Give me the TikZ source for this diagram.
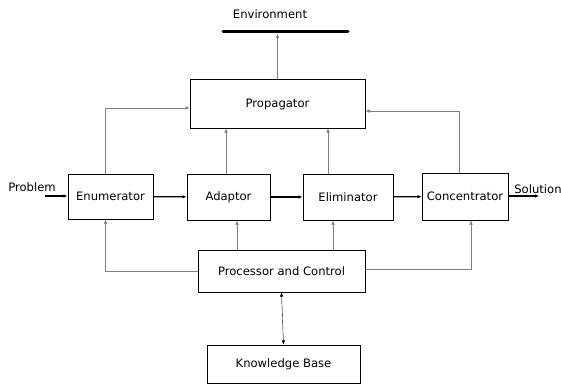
\documentclass[tikz,border=0pt]{standalone}
\usepackage{fontspec}
\setmainfont{DejaVu Sans}
\usetikzlibrary{arrows.meta}

\begin{document}
\begin{tikzpicture}
  [x=1pt,y=-1pt,font=\fontsize{11.6}{13}\selectfont,
   box/.style={draw,line width=1pt,rectangle,inner sep=0pt},
   flow/.style={line width=1.2pt,-{Latex[length=4pt,width=3.5pt]}},
   link/.style={gray,-{Latex[length=4pt,width=3.5pt]}}]

  \useasboundingbox (0,0) rectangle (561,385);

  \node (envtext) at (270,14) {Environment};
  \draw[line width=3pt,line cap=round] (223,32) -- (348,32);
  \coordinate (env) at (277.5,34);

  \node[box,minimum width=175,minimum height=48] (prop) at (277.5,104) {Propagator};
  \node[box,minimum width=85,minimum height=45] (enum) at (110.5,196.5) {Enumerator};
  \node[box,minimum width=83,minimum height=46] (adapt) at (228.5,197) {Adaptor};
  \node[box,minimum width=90,minimum height=46] (elim) at (348,197) {Eliminator};
  \node[box,minimum width=86,minimum height=47] (conc) at (465,196.5) {Concentrator};
  \node[box,minimum width=167,minimum height=42] (proc) at (281.5,271) {Processor and Control};
  \node[box,minimum width=153,minimum height=38] (kb) at (283.5,364) {Knowledge Base};

  \node (problem) at (32,187) {Problem};
  \node (solution) at (538,189) {Solution};
  \coordinate (in) at (45,196);
  \coordinate (out) at (539,196);

  % main flow
  \draw[flow] (in) -- (in -| enum.west);
  \foreach \from/\to in {enum/adapt,adapt/elim,elim/conc}
    \draw[flow] (\from) -- (\to);
  \draw[flow] (conc.east |- out) -- (out);

  % propagator links
  \draw[link] (prop.north) -- (env);
  \draw[link] ([xshift=-5pt]enum.north) |- ([yshift=-4pt]prop.west);
  \draw[link] ([xshift=-6pt]conc.north) |- ([yshift=-7pt]prop.east);
  \draw[link] ([xshift=-2.5pt]adapt.north) -- ([xshift=-2.5pt]adapt.north |- prop.south);
  \draw[link] ([xshift=-20pt]elim.north) -- ([xshift=-20pt]elim.north |- prop.south);

  % control links
  \draw[link] (proc.west) -| ([xshift=-5pt]enum.south);
  \draw[link] ([xshift=8.5pt]adapt.south |- proc.north) -- ([xshift=8.5pt]adapt.south);
  \draw[link] ([xshift=-15pt]elim.south |- proc.north) -- ([xshift=-15pt]elim.south);
  \draw[link] ([yshift=2pt]proc.east) -| ([xshift=6pt]conc.south);
  \draw[{Latex[length=4pt,width=3.5pt]}-{Latex[length=4pt,width=3.5pt]}] (proc.south) -- (kb.north);
\end{tikzpicture}
\end{document}
